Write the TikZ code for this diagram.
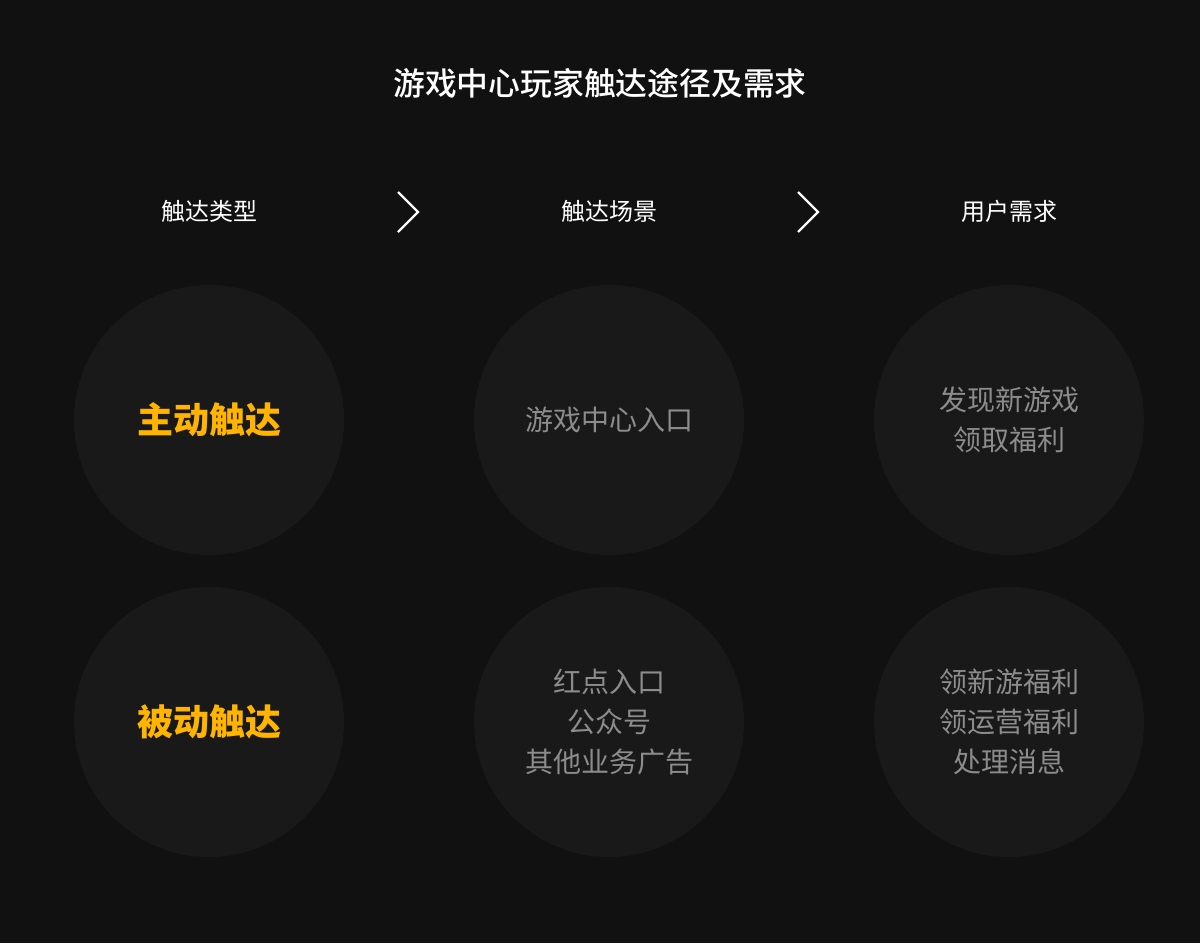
\documentclass[tikz,border=0pt]{standalone}
\usepackage{fontspec}
\newfontfamily\cjk{Noto Sans CJK SC}
\newfontfamily\cjkmed{Noto Sans CJK SC Medium}
\newfontfamily\cjkbold{Noto Sans CJK SC Black}
\definecolor{bg}{HTML}{111111}
\definecolor{circ}{HTML}{191919}
\definecolor{graytxt}{HTML}{8C8C8C}
\definecolor{orangetxt}{HTML}{FFB400}
\begin{document}
\begin{tikzpicture}[x=1pt,y=-1pt,
  bubble/.style={circle,fill=circ,minimum size=270pt,inner sep=0pt},
  graylbl/.style={text=graytxt,font=\cjk\fontsize{28}{40}\selectfont,align=center},
  orangelbl/.style={text=orangetxt,font=\cjkbold\fontsize{36}{40}\selectfont},
  header/.style={text=white,font=\cjk\fontsize{24}{28}\selectfont},
  chevron/.style={draw=white,line width=2.2pt}]
\fill[bg] (0,0) rectangle (1200,943);
\useasboundingbox (0,0) rectangle (1200,943);
\node[text=white,font=\cjkmed\fontsize{31.8}{36}\selectfont] (title) at (600,83) {游戏中心玩家触达途径及需求};
\node[header] (h1) at (209,211) {触达类型};
\node[header] (h2) at (609,211) {触达场景};
\node[header] (h3) at (1009,211) {用户需求};
\coordinate (c1a) at (398,192); \coordinate (c1b) at (418,212); \coordinate (c1c) at (398,232);
\coordinate (c2a) at (798,192); \coordinate (c2b) at (818,212); \coordinate (c2c) at (798,232);
\draw[chevron] (c1a) -- (c1b) -- (c1c);
\draw[chevron] (c2a) -- (c2b) -- (c2c);
\node[bubble] (b11) at (209,420) {};
\node[bubble] (b12) at (609,420) {};
\node[bubble] (b13) at (1009,420) {};
\node[bubble] (b21) at (209,722) {};
\node[bubble] (b22) at (609,722) {};
\node[bubble] (b23) at (1009,722) {};
\node[orangelbl] (t11) at (b11) {主动触达};
\node[orangelbl] (t21) at (b21) {被动触达};
\node[graylbl] (t12) at (b12) {游戏中心入口};
\node[graylbl] (t13) at (b13) {发现新游戏\\领取福利};
\node[graylbl] (t22) at (b22) {红点入口\\公众号\\其他业务广告};
\node[graylbl] (t23) at (b23) {领新游福利\\领运营福利\\处理消息};
\end{tikzpicture}
\end{document}
